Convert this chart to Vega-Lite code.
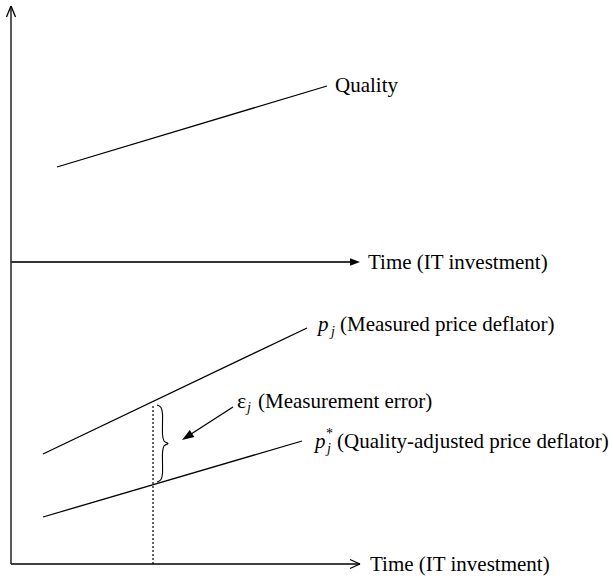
{
  "$schema": "https://vega.github.io/schema/vega-lite/v6.json",
  "width": 613,
  "height": 579,
  "autosize": {"type": "fit", "contains": "padding"},
  "padding": 0,
  "background": "white",
  "config": {"view": {"stroke": null}},
  "datasets": {
    "solid": [
      {"x": 11, "y": 564, "x2": 11, "y2": 6},
      {"x": 11, "y": 6, "x2": 6.5, "y2": 17},
      {"x": 11, "y": 6, "x2": 15.5, "y2": 17},
      {"x": 11, "y": 564, "x2": 360, "y2": 564},
      {"x": 360, "y": 564, "x2": 350, "y2": 559.5},
      {"x": 360, "y": 564, "x2": 350, "y2": 568.5},
      {"x": 57, "y": 167, "x2": 327, "y2": 86},
      {"x": 43, "y": 454, "x2": 307, "y2": 328},
      {"x": 43, "y": 517, "x2": 302, "y2": 441},
      {"x": 233, "y": 407, "x2": 188, "y2": 436}
    ],
    "midaxis": [{"x": 11, "y": 262, "x2": 352, "y2": 262}],
    "dotted": [{"x": 153, "y": 406, "x2": 153, "y2": 564}],
    "headMid": [{"x": 360, "y": 262}],
    "headEps": [{"x": 182, "y": 440}],
    "brace": [
      {"o": 1, "x": 157, "y": 405},
      {"o": 2, "x": 161, "y": 407.5},
      {"o": 3, "x": 162.5, "y": 414},
      {"o": 4, "x": 162.5, "y": 434},
      {"o": 5, "x": 164, "y": 441},
      {"o": 6, "x": 168, "y": 443.5},
      {"o": 7, "x": 164, "y": 446},
      {"o": 8, "x": 162.5, "y": 453},
      {"o": 9, "x": 162.5, "y": 473},
      {"o": 10, "x": 161, "y": 479.5},
      {"o": 11, "x": 157, "y": 482}
    ],
    "labels": [
      {"x": 335, "y": 92, "t": "Quality"},
      {"x": 368, "y": 269, "t": "Time (IT investment)"},
      {"x": 370, "y": 571, "t": "Time (IT investment)"},
      {"x": 258, "y": 408, "t": "(Measurement error)"},
      {"x": 340, "y": 331, "t": "(Measured price deflator)"},
      {"x": 337, "y": 448, "t": "(Quality-adjusted price deflator)"}
    ],
    "italic": [
      {"x": 318, "y": 331, "t": "p"},
      {"x": 315, "y": 448, "t": "p"}
    ],
    "eps": [{"x": 237, "y": 408, "t": "ε"}],
    "subs": [
      {"x": 247, "y": 412, "t": "j"},
      {"x": 331, "y": 336, "t": "j"},
      {"x": 327, "y": 453, "t": "j"}
    ],
    "sups": [{"x": 326, "y": 438, "t": "*"}]
  },
  "encoding": {
    "x": {"field": "x", "type": "quantitative", "scale": {"domain": [0, 613], "nice": false, "zero": false}, "axis": null},
    "y": {"field": "y", "type": "quantitative", "scale": {"domain": [0, 579], "nice": false, "zero": false, "reverse": true}, "axis": null}
  },
  "layer": [
    {
      "data": {"name": "solid"},
      "mark": {"type": "rule", "color": "black", "strokeWidth": 1.3},
      "encoding": {"x2": {"field": "x2"}, "y2": {"field": "y2"}}
    },
    {
      "data": {"name": "midaxis"},
      "mark": {"type": "rule", "color": "#333333", "strokeWidth": 1.8},
      "encoding": {"x2": {"field": "x2"}, "y2": {"field": "y2"}}
    },
    {
      "data": {"name": "dotted"},
      "mark": {"type": "rule", "color": "black", "strokeWidth": 1.2, "strokeDash": [2, 2]},
      "encoding": {"x2": {"field": "x2"}, "y2": {"field": "y2"}}
    },
    {
      "data": {"name": "brace"},
      "mark": {"type": "line", "color": "black", "strokeWidth": 1.1, "interpolate": "cardinal"},
      "encoding": {"order": {"field": "o", "type": "quantitative"}}
    },
    {
      "data": {"name": "headMid"},
      "mark": {"type": "point", "shape": "M0,0L-1,-0.38L-1,0.38Z", "size": 400, "filled": true, "color": "black", "opacity": 1, "angle": 0, "strokeWidth": 0}
    },
    {
      "data": {"name": "headEps"},
      "mark": {"type": "point", "shape": "M0,0L-1,-0.35L-1,0.35Z", "size": 576, "filled": true, "color": "black", "opacity": 1, "angle": 147, "strokeWidth": 0}
    },
    {
      "data": {"name": "labels"},
      "mark": {"type": "text", "font": "Liberation Serif", "fontSize": 21, "align": "left", "baseline": "alphabetic", "color": "black"},
      "encoding": {"text": {"field": "t"}}
    },
    {
      "data": {"name": "italic"},
      "mark": {"type": "text", "font": "Liberation Serif", "fontStyle": "italic", "fontSize": 21, "align": "left", "baseline": "alphabetic", "color": "black"},
      "encoding": {"text": {"field": "t"}}
    },
    {
      "data": {"name": "eps"},
      "mark": {"type": "text", "font": "Liberation Serif", "fontSize": 22, "align": "left", "baseline": "alphabetic", "color": "black"},
      "encoding": {"text": {"field": "t"}}
    },
    {
      "data": {"name": "subs"},
      "mark": {"type": "text", "font": "Liberation Serif", "fontStyle": "italic", "fontSize": 14, "align": "left", "baseline": "alphabetic", "color": "black"},
      "encoding": {"text": {"field": "t"}}
    },
    {
      "data": {"name": "sups"},
      "mark": {"type": "text", "font": "Liberation Serif", "fontSize": 14, "align": "left", "baseline": "alphabetic", "color": "black"},
      "encoding": {"text": {"field": "t"}}
    }
  ]
}
